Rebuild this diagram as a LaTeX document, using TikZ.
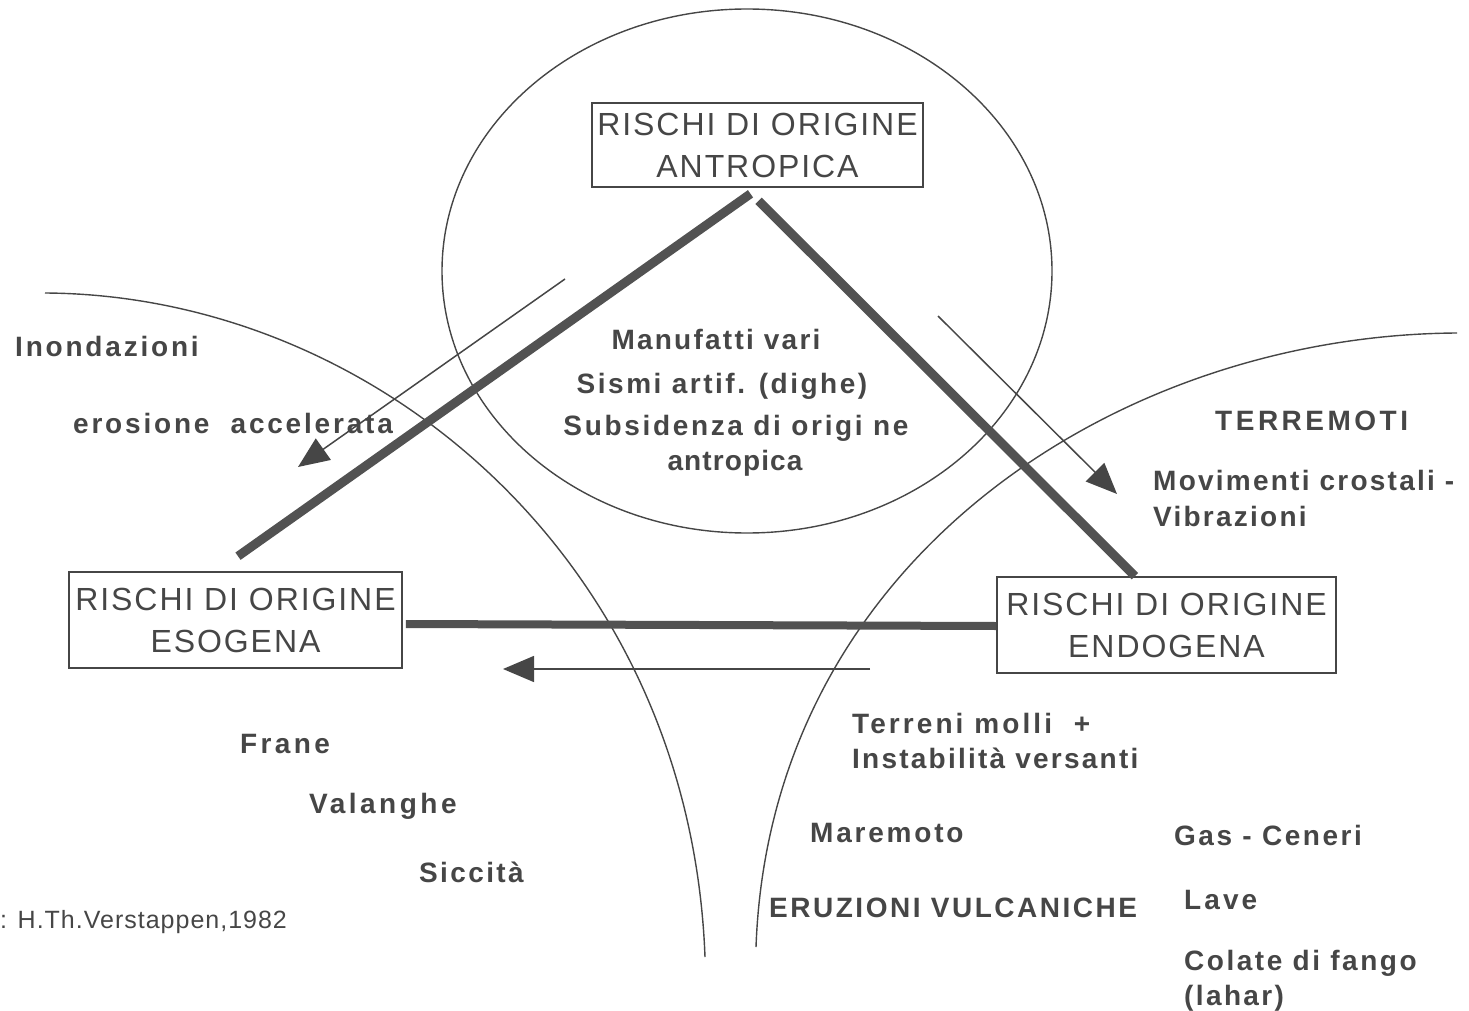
\documentclass[tikz,border=0pt]{standalone}
\usepackage{fontspec}
\usetikzlibrary{arrows.meta, calc}
\newfontfamily\boxfont{Liberation Sans}[LetterSpace=6]
\newfontfamily\labfont{Liberation Sans}
\definecolor{rink}{RGB}{70,70,70}
\definecolor{rbar}{RGB}{82,82,82}
\tikzset{
  rbox/.style  = {draw=rink, line width=1.6pt, inner sep=0pt, align=center, text=rink,
                  font=\boxfont\fontsize{32}{42}\selectfont},      % the three risk boxes
  lab/.style   = {text=rink, inner sep=0pt,
                  font=\labfont\bfseries\fontsize{28}{34}\selectfont\addfontfeature{LetterSpace=#1}},
  lab/.default = 9.5,
  rim/.style   = {draw=rink, line width=1.4pt},                    % circle and the two curves
  bar/.style   = {draw=rbar, line width=9pt},                      % links between the boxes
  flow/.style  = {draw=rink, line width=1.5pt, -{Triangle[length=31pt,width=26pt]}},
}

\begin{document}
\begin{tikzpicture}[x=1pt, y=-1pt]
  \useasboundingbox (0,0) rectangle (1469,1011);

  % fields
  \draw[rim] (747,271) ellipse [x radius=305, y radius=262];
  \draw[rim] (45,293) .. controls (375,295) and (690,560) .. (705,957);
  \draw[rim] (1457,333) .. controls (1117,335) and (770,560) .. (756,947);

  % boxes
  \node[rbox, minimum width=331pt, minimum height=84pt] (antro) at (757.5,145)
    {RISCHI DI ORIGINE\\ANTROPICA};
  \node[rbox, minimum width=333pt, minimum height=96pt] (esog) at (235.5,620)
    {RISCHI DI ORIGINE\\ESOGENA};
  \node[rbox, minimum width=339pt, minimum height=96pt] (endo) at (1166.5,625)
    {RISCHI DI ORIGINE\\ENDOGENA};

  \draw[bar] ($(antro.south)+(-7,6)$) -- ($(esog.north)+(2.5,-15)$);
  \draw[bar] ($(antro.south)+(1,13)$) -- ($(endo.north)+(-31.5,0)$);
  \draw[bar, line width=8pt] ($(esog.east)+(3,4)$) -- ($(endo.west)+(0,1)$);

  % influences
  \coordinate (eroTail) at (565,279);
  \coordinate (eroHead) at (298,467);
  \coordinate (terTail) at (938,316);
  \coordinate (terHead) at (1117,494);
  \coordinate (cedTail) at (870,669);
  \coordinate (cedHead) at (503,669);
  \draw[flow] (eroTail) -- (eroHead);
  \draw[flow] (terTail) -- (terHead);
  \draw[flow] (cedTail) -- (cedHead);

  % antropica
  \node[lab=8, anchor=base] (manuf) at (716,349) {Manufatti vari};
  \node[lab=9, anchor=base] (sismi) at (722,393) {Sismi artif. (dighe)};
  \node[lab, anchor=base] (subsid) at (736,435) {Subsidenza di origi ne};
  \node[lab=4, anchor=base] (antrop) at (735,470) {antropica};

  % esogena
  \node[lab=10, anchor=base west] (inond) at (15,356) {Inondazioni};
  \node[lab=10, anchor=base west] (erosione) at (73,433) {erosione\ \ accelerata};
  \node[lab=12, anchor=base west] (frane) at (240,753) {Frane};
  \node[lab=12.5, anchor=base west] (valan) at (309,813) {Valanghe};
  \node[lab=8.5, anchor=base west] (siccita) at (419,882) {Siccità};

  % endogena
  \node[lab=12.5, anchor=base west] (terrem) at (1215,430) {TERREMOTI};
  \node[lab=8, anchor=base west] (movim) at (1153,490) {Movimenti crostali -};
  \node[lab=8, anchor=base west] (vibraz) at (1153,526) {Vibrazioni};
  \node[lab=11, anchor=base west] (terreni) at (852,733) {Terreni molli\ \ +};
  \node[lab=8, anchor=base west] (instab) at (852,768) {Instabilità versanti};
  \node[lab=10, anchor=base west] (marem) at (810,842) {Maremoto};
  \node[lab=9, anchor=base west] (gas) at (1174,845) {Gas - Ceneri};
  \node[lab=9, anchor=base west] (eruz) at (769,917) {ERUZIONI VULCANICHE};
  \node[lab=11, anchor=base west] (lave) at (1184,909) {Lave};
  \node[lab=9, anchor=base west] (colate) at (1184,970) {Colate di fango};
  \node[lab=8.5, anchor=base west] (lahar) at (1184,1005) {(lahar)};

  \node[text=rink, inner sep=0pt, anchor=base west,
        font=\labfont\fontsize{25}{30}\selectfont\addfontfeature{LetterSpace=4}]
    (fonte) at (0,928) {: H.Th.Verstappen,1982};
\end{tikzpicture}
\end{document}
